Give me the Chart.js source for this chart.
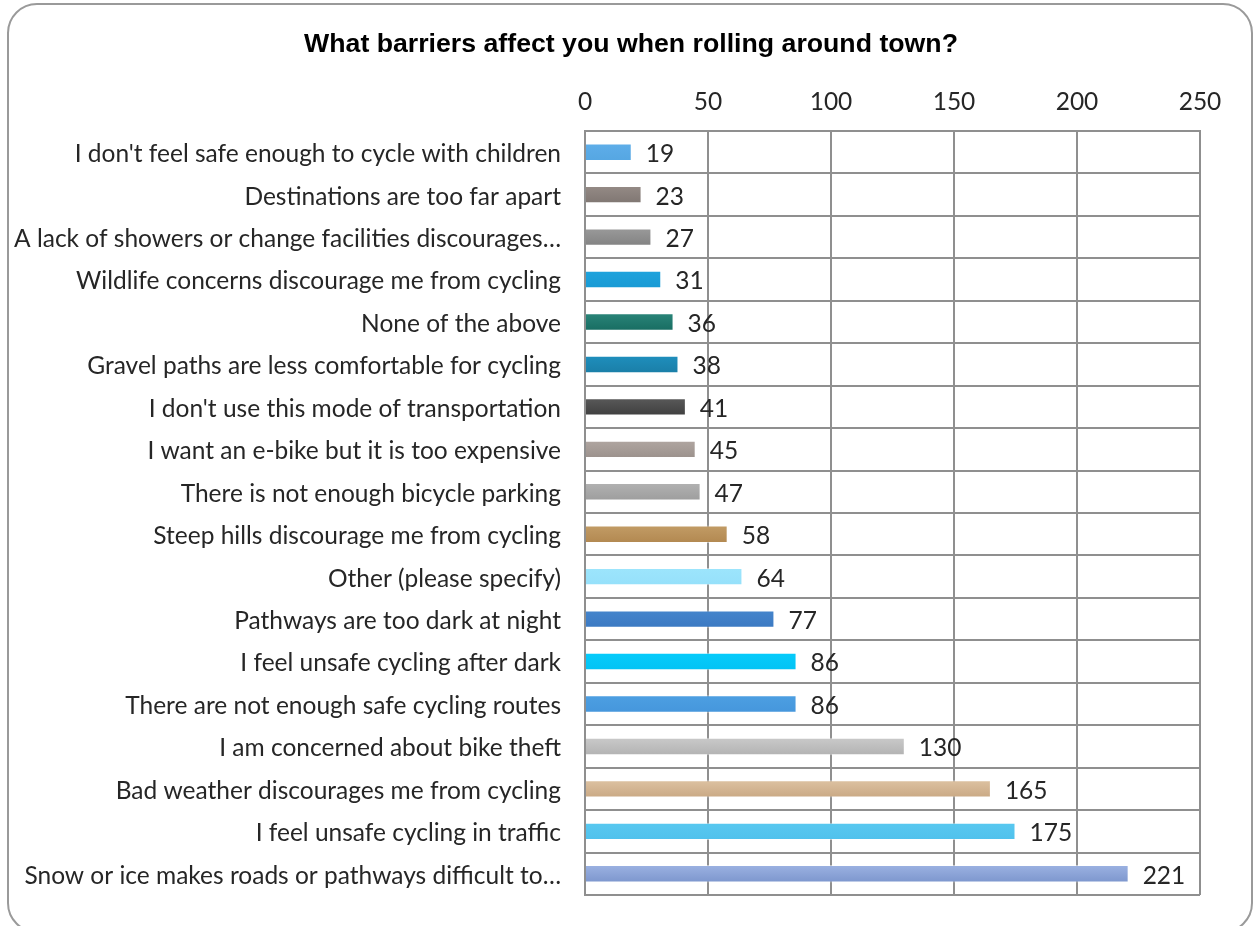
<!DOCTYPE html>
<html>
<head>
<meta charset="utf-8">
<title>Barriers</title>
<script src="https://cdn.jsdelivr.net/npm/chart.js@4.4.0/dist/chart.umd.min.js"></script>
<style>
  html, body { margin: 0; padding: 0; background: #fff; overflow: hidden; }
  #wrap { position: relative; width: 1253px; height: 926px; overflow: hidden; }
  #frame {
    position: absolute; left: 7px; top: 3px; width: 1242px; height: 926px;
    border: 2px solid #9a9a9a; border-radius: 30px; box-sizing: content-box;
  }
  canvas { position: absolute; left: 0; top: 0; }
</style>
</head>
<body>
<div id="wrap">
  <div id="frame"></div>
  <canvas id="grafico" width="1253" height="926"></canvas>
</div>
<script>
var titolo = 'What barriers affect you when rolling around town?';
var etichette = [
  "I don't feel safe enough to cycle with children",
  "Destinations are too far apart",
  "A lack of showers or change facilities discourages…",
  "Wildlife concerns discourage me from cycling",
  "None of the above",
  "Gravel paths are less comfortable for cycling",
  "I don't use this mode of transportation",
  "I want an e-bike but it is too expensive",
  "There is not enough bicycle parking",
  "Steep hills discourage me from cycling",
  "Other (please specify)",
  "Pathways are too dark at night",
  "I feel unsafe cycling after dark",
  "There are not enough safe cycling routes",
  "I am concerned about bike theft",
  "Bad weather discourages me from cycling",
  "I feel unsafe cycling in traffic",
  "Snow or ice makes roads or pathways difficult to…"
];
var valori = [19, 23, 27, 31, 36, 38, 41, 45, 47, 58, 64, 77, 86, 86, 130, 165, 175, 221];

// colore chiaro in alto, scuro in basso per ogni barra
var coloriAlto = ['#5eaee9', '#958b86', '#9a9a9a', '#1ea3dd', '#2a8579', '#1f8fbd', '#5a5a5a', '#b0a6a1', '#b2b2b2', '#c29c66',
  '#9de5fc', '#4585cc', '#06cbfb', '#4d9fe2', '#cacaca', '#ddc2a2', '#58c8f0', '#9cb2e2'];
var coloriBasso = ['#55a6e2', '#7f7672', '#828282', '#189ad4', '#176c61', '#1a7ea7', '#3e3e3e', '#9b918c', '#9d9d9d', '#b28850',
  '#95e0fa', '#3b79c2', '#02c3f4', '#4596dc', '#b2b2b2', '#c9a883', '#50c1ec', '#7c96cd'];

var ticksX = [0, 50, 100, 150, 200, 250];
var fontTesto = 'Lato';
var dimTesto = 24.5;
var coloreTesto = '#262626';
var coloreGriglia = '#8f8f8f';

function sfumatura(ctx) {
  var c = ctx.chart;
  var i = ctx.dataIndex;
  if (!c.chartArea || !c.scales.y) return coloriAlto[i];
  var y = c.scales.y.getPixelForValue(i);
  var g = c.ctx.createLinearGradient(0, y - 9, 0, y + 9);
  g.addColorStop(0, coloriAlto[i]);
  g.addColorStop(1, coloriBasso[i]);
  return g;
}

// titolo disegnato a mano, centrato sul riquadro esterno
var titoloPlugin = {
  id: 'titoloPlugin',
  afterDraw: function(chart) {
    var ctx = chart.ctx;
    ctx.save();
    ctx.font = 'bold 26.7px "Liberation Sans"';
    ctx.fillStyle = '#000';
    ctx.textAlign = 'center';
    ctx.textBaseline = 'middle';
    ctx.fillText(titolo, 631, 45);
    ctx.restore();
  }
};

var etichetteValori = {
  id: 'etichetteValori',
  afterDatasetsDraw: function(chart) {
    var ctx = chart.ctx;
    var meta = chart.getDatasetMeta(0);
    ctx.save();
    ctx.font = dimTesto + 'px ' + fontTesto;
    ctx.fillStyle = coloreTesto;
    ctx.textAlign = 'left';
    ctx.textBaseline = 'middle';
    meta.data.forEach(function(bar, i) {
      ctx.fillText(String(valori[i]), bar.x + 14, bar.y + 2);
    });
    ctx.restore();
  }
};

var ctx = document.getElementById('grafico');
var grafico = new Chart(ctx, {
  type: 'bar',
  data: {
    labels: etichette,
    datasets: [{
      label: 'Risposte',
      data: valori,
      backgroundColor: sfumatura,
      borderColor: 'rgba(255,255,255,0.5)',
      borderWidth: 1,
      borderSkipped: 'left',
      barPercentage: 0.41,
      categoryPercentage: 1
    }]
  },
  options: {
    responsive: false,
    animation: false,
    indexAxis: 'y',
    layout: { padding: { left: 0, right: 53, top: 60, bottom: 31 } },
    plugins: {
      legend: { display: false },
      tooltip: { enabled: false },
      title: { display: false }
    },
    scales: {
      x: {
        position: 'top',
        min: 0,
        max: 250,
        afterBuildTicks: function(scale) {
          scale.ticks = ticksX.map(function(v) { return { value: v }; });
        },
        afterFit: function(scale) {
          scale.height = 71;
          scale.paddingLeft = 0;
          scale.paddingRight = 0;
        },
        grid: { color: coloreGriglia, lineWidth: 2, drawTicks: false },
        border: { display: true, color: coloreGriglia, width: 2 },
        ticks: { color: coloreTesto, font: { family: fontTesto, size: dimTesto }, padding: 14 }
      },
      y: {
        afterFit: function(scale) {
          scale.width = 585;
          scale.paddingTop = 0;
          scale.paddingBottom = 0;
        },
        grid: { color: coloreGriglia, lineWidth: 2, drawTicks: false, offset: true },
        border: { display: true, color: coloreGriglia, width: 2 },
        ticks: { color: coloreTesto, font: { family: fontTesto, size: dimTesto }, padding: 24, labelOffset: 2, autoSkip: false }
      }
    }
  },
  plugins: [etichetteValori, titoloPlugin]
});
</script>
</body>
</html>
